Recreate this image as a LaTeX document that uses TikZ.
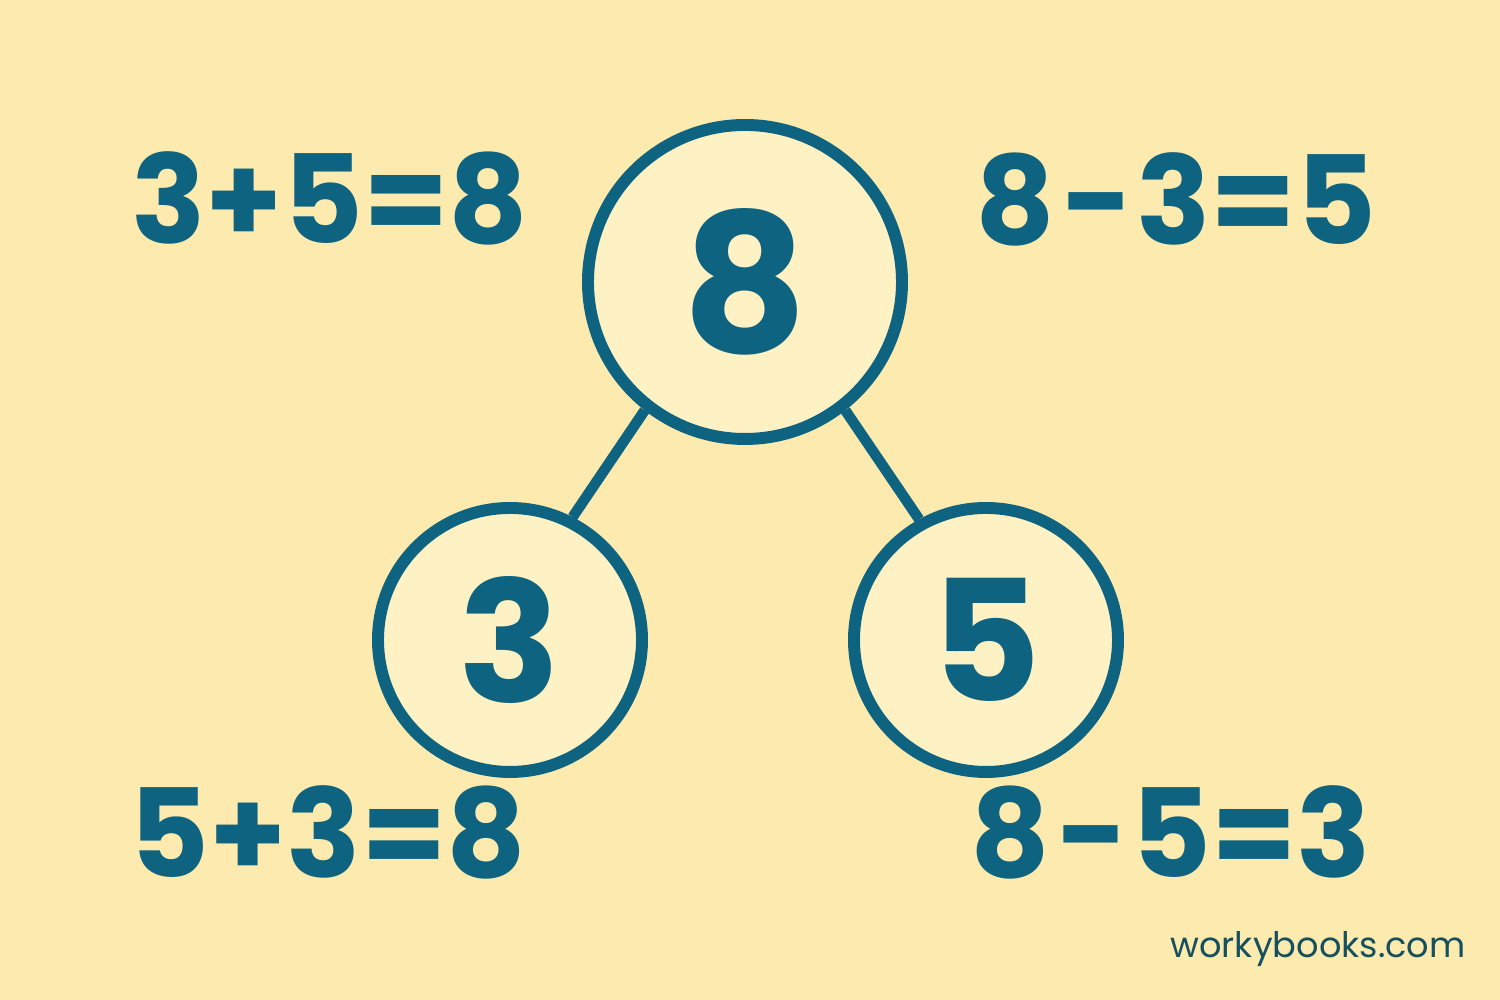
\documentclass[tikz,border=0pt]{standalone}
\usepackage{fontspec}
\setmainfont{Poppins}
\definecolor{teal}{RGB}{14,99,128}
\definecolor{paper}{RGB}{253,234,174}
\definecolor{bubble}{RGB}{254,242,196}
\definecolor{mark}{RGB}{20,80,95}

\begin{document}
\begin{tikzpicture}[auto,
	thin,main node/.style = {circle,draw=teal,fill=bubble, line width=3.4pt, inner sep = 0pt, text=teal, font=\bfseries},
	eq node/.style = {inner sep = 0pt, text=teal, font=\fontsize{35}{40}\selectfont\bfseries}]
	
	\fill[paper] (0,0) rectangle (15,10);
	
	\node[main node,minimum size = 3.14cm,font=\fontsize{55}{60}\selectfont\bfseries] at (7.45,7.18) (1) {8};
	\node[main node,minimum size = 2.64cm,font=\fontsize{48}{52}\selectfont\bfseries] at (5.10,3.60) (2) {3};
	\node[main node,minimum size = 2.64cm,font=\fontsize{48}{52}\selectfont\bfseries] at (9.86,3.60) (3) {5};
	
	\node[eq node] at (3.30,8.02) (4) {3+5=8};
	\node[eq node] at (11.76,8.01) (5) {8\kern2pt\char"2212\kern2pt 3=5};
	\node[eq node] at (3.28,1.68) (6) {5+3=8};
	\node[eq node] at (11.71,1.68) (7) {8\kern2pt\char"2212\kern2pt 5=3};
	\node[text=mark,inner sep=0pt,font=\fontsize{10}{12}\selectfont] at (13.18,0.51) (8) {workybooks.com};
	
	\path[-,draw=teal,line width=3pt]
	(1.232) edge node {} (2.63)
	(1.308) edge node {} (3.119);
\end{tikzpicture}
\end{document}
